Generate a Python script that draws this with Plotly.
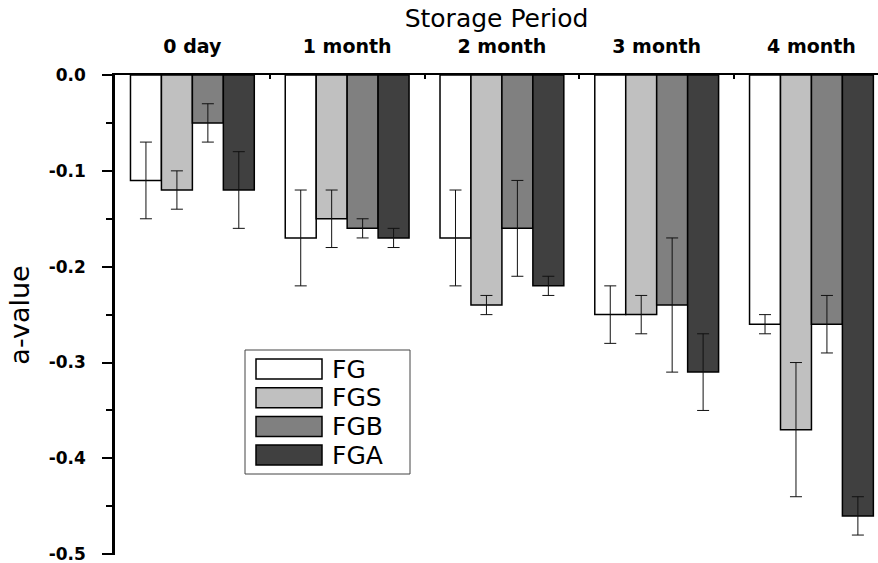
import plotly.graph_objects as go

periods = ["0 day", "1 month", "2 month", "3 month", "4 month"]
series_names = ["FG", "FGS", "FGB", "FGA"]
fg = [-0.11, -0.17, -0.17, -0.25, -0.26]
fg_err = [0.04, 0.05, 0.05, 0.03, 0.01]
fgs = [-0.12, -0.15, -0.24, -0.25, -0.37]
fgs_err = [0.02, 0.03, 0.01, 0.02, 0.07]
fgb = [-0.05, -0.16, -0.16, -0.24, -0.26]
fgb_err = [0.02, 0.01, 0.05, 0.07, 0.03]
fga = [-0.12, -0.17, -0.22, -0.31, -0.46]
fga_err = [0.04, 0.01, 0.01, 0.04, 0.02]
colors = ["#FFFFFF", "#C0C0C0", "#808080", "#404040"]
y_ticks = [0.0, -0.1, -0.2, -0.3, -0.4, -0.5]

FONT = "DejaVu Sans, Liberation Sans, Arial, sans-serif"

W, H = 878, 563
L, R, T, B = 115, 0, 75, 8
PW, PH = W - L - R, H - T - B

fig = go.Figure()
vals = [fg, fgs, fgb, fga]
errs = [fg_err, fgs_err, fgb_err, fga_err]
for name, v, e, c in zip(series_names, vals, errs, colors):
    fig.add_trace(go.Bar(
        x=periods, y=v, name=name,
        marker=dict(color=c, line=dict(color="black", width=1.5)),
        error_y=dict(type="data", array=e, color="#111111", thickness=1, width=6),
        showlegend=False,
    ))

# manual legend built from the series names/colours (pixel positions -> paper coords)
def fx(x):
    return (x - L) / PW
def fy(y):
    return (H - B - y) / PH

lx0, lx1, ly0, ly1 = 245, 410, 350, 474
shapes = [dict(type="rect", xref="paper", yref="paper",
               x0=fx(lx0), x1=fx(lx1), y0=fy(ly1), y1=fy(ly0),
               line=dict(color="#444444", width=1), fillcolor="white")]
annotations = []
for i, (name, c) in enumerate(zip(series_names, colors)):
    top = 359 + i * 28.7
    bot = top + 20
    shapes.append(dict(type="rect", xref="paper", yref="paper",
                       x0=fx(256), x1=fx(322), y0=fy(bot), y1=fy(top),
                       line=dict(color="black", width=1.5), fillcolor=c))
    annotations.append(dict(xref="paper", yref="paper",
                            x=fx(330), y=fy(top + 10),
                            text=name, showarrow=False, xanchor="left", yanchor="middle",
                            font=dict(family=FONT, size=25, color="black")))

fig.update_layout(
    width=W, height=H,
    margin=dict(l=L, r=R, t=T, b=B, autoexpand=False),
    plot_bgcolor="white", paper_bgcolor="white",
    barmode="group", bargap=0.2, bargroupgap=0,
    font=dict(family=FONT, color="black"),
    shapes=shapes, annotations=annotations,
    xaxis=dict(
        side="top", range=[-0.5, 4.43], type="category", automargin=False,
        tickson="boundaries", ticks="inside", ticklen=4, tickwidth=2, tickcolor="black",
        showline=True, linecolor="black", linewidth=1.5, mirror=False,
        showgrid=False, zeroline=False,
        tickfont=dict(family=FONT, size=19, color="black", weight="bold"),
        ticklabelstandoff=13,
        title=dict(text="Storage Period", font=dict(family=FONT, size=25), standoff=0),
    ),
    yaxis=dict(
        range=[-0.5008, 0.0], tickvals=y_ticks, ticktext=[f"{t:.1f}" for t in y_ticks],
        automargin=False, ticklabeloverflow="allow",
        ticks="outside", ticklen=10, tickwidth=2, tickcolor="black",
        minor=dict(dtick=0.05, ticks="outside", ticklen=6, tickwidth=2, tickcolor="black", showgrid=False),
        showline=True, linecolor="black", linewidth=2.5,
        showgrid=False, zeroline=False,
        tickfont=dict(family=FONT, size=17, color="black", weight="bold"),
        ticklabelstandoff=13,
        title=dict(text="a-value", font=dict(family=FONT, size=27), standoff=12),
    ),
)

fig.write_html("out.html", config={"displayModeBar": False},
               post_script="document.body.style.margin='0';document.body.style.overflow='hidden';")
